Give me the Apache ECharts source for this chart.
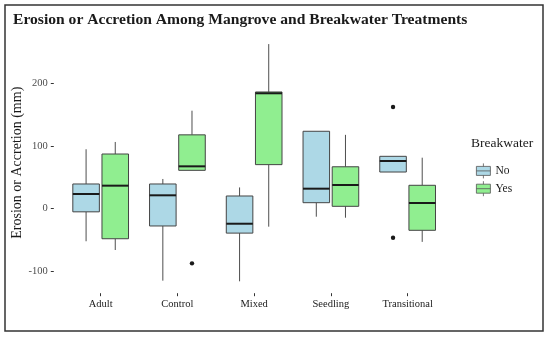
<!DOCTYPE html>
<html>
<head>
<meta charset="utf-8">
<script src="https://cdn.jsdelivr.net/npm/echarts@6/dist/echarts.min.js"></script>
<style>
html,body{margin:0;padding:0;background:#fff;}
#c{width:550px;height:337px;}
</style>
</head>
<body>
<div id="c"></div>
<script>
// ---- data ----
const categories = ['Adult', 'Control', 'Mixed', 'Seedling', 'Transitional'];
// [min whisker, Q1, median, Q3, max whisker]
const noStats = [
  [-52, -5, 23.5, 39.5, 95],
  [-115, -27.6, 21.4, 39.5, 47.5],
  [-116, -39, -24, 20.3, 34],
  [-12.8, 9.6, 32, 123.7, 123.7],
  [58.6, 58.6, 76.2, 83.7, 83.7]
];
const yesStats = [
  [-66, -48, 36.8, 87.4, 106.6],
  [61.3, 61.3, 67.7, 118, 156.6],
  [-28.7, 70.4, 184.4, 186.5, 263],
  [-14.4, 3.8, 37.9, 67, 118],
  [-53, -34.5, 9.1, 37.4, 81.5]
];
// outliers: [category index, value]
const noOutliers = [[4, 162.5], [4, -46.3]];
const yesOutliers = [[1, -87.3]];
const yTicks = [-100, 0, 100, 200];
const seriesNames = ['No', 'Yes'];
const colors = ['#ADD8E6', '#90EE90'];

const serif = '"Liberation Serif", "DejaVu Serif", serif';

function boxRender(dir, fill) {
  return function (params, api) {
    const idx = api.value(0);
    const cx = api.coord([idx, 0])[0];
    const band = api.size([1, 0])[0];
    const x = cx + dir * band * 0.19;
    const hw = band * 0.173;
    const y = i => api.coord([idx, api.value(i)])[1];
    const yMin = y(1), yQ1 = y(2), yMed = y(3), yQ3 = y(4), yMax = y(5);
    const ws = { stroke: '#3a3a3a', lineWidth: 0.9 };
    return {
      type: 'group',
      children: [
        { type: 'line', shape: { x1: x, y1: yQ3, x2: x, y2: yMax }, style: ws },
        { type: 'line', shape: { x1: x, y1: yQ1, x2: x, y2: yMin }, style: ws },
        { type: 'rect', shape: { x: x - hw, y: yQ3, width: 2 * hw, height: yQ1 - yQ3 },
          style: { fill: fill, stroke: '#444', lineWidth: 1 } },
        { type: 'line', shape: { x1: x - hw, y1: yMed, x2: x + hw, y2: yMed },
          style: { stroke: '#1a1a1a', lineWidth: 2 } }
      ]
    };
  };
}
function outRender(dir) {
  return function (params, api) {
    const idx = api.value(0);
    const p = api.coord([idx, api.value(1)]);
    const band = api.size([1, 0])[0];
    return { type: 'circle', shape: { cx: p[0] + dir * band * 0.19, cy: p[1], r: 2.2 },
      style: { fill: '#1a1a1a' } };
  };
}

const iconPath = 'path://M7,0 V3 M0,3 H14 V12 H0 Z M0,7.5 H14 M7,12 V15';

const option = {
  animation: false,
  backgroundColor: '#fff',
  title: {
    text: 'Erosion or Accretion Among Mangrove and Breakwater Treatments',
    left: 13, top: 12, padding: 0,
    textStyle: { fontFamily: serif, fontSize: 15.6, fontWeight: 'bold', color: '#1a1a1a' }
  },
  legend: {
    orient: 'vertical', left: 471, top: 158,
    itemWidth: 14, itemHeight: 15, itemGap: 2,
    textStyle: { fontFamily: serif, fontSize: 11.5, color: '#1a1a1a' },
    data: seriesNames.map((n, i) => ({
      name: n, icon: iconPath,
      itemStyle: { color: colors[i], borderColor: '#555', borderWidth: 0.8 }
    }))
  },
  graphic: [
    { type: 'text', left: 471, top: 136,
      style: { text: 'Breakwater', font: '13.5px ' + serif, fill: '#1a1a1a' } },
    { type: 'rect', shape: { x: 5, y: 5, width: 538, height: 326 }, z: 100,
      style: { fill: 'none', stroke: '#333', lineWidth: 1.5 } }
  ],
  grid: { left: 62.3, right: 104, top: 32.2, bottom: 43.8, containLabel: false, outerBoundsMode: 'none' },
  xAxis: {
    type: 'category', data: categories, boundaryGap: true,
    axisLine: { show: false, onZero: false },
    axisTick: { show: true, alignWithLabel: true, length: 3, lineStyle: { color: '#333' } },
    axisLabel: { margin: 6, fontFamily: serif, fontSize: 10.5, color: '#1a1a1a' },
    splitLine: { show: false }
  },
  yAxis: {
    type: 'value', min: -135, max: 282, offset: 8.5,
    name: 'Erosion or Accretion (mm)', nameLocation: 'middle', nameGap: 29,
    nameMoveOverlap: false,
    nameTextStyle: { fontFamily: serif, fontSize: 14, color: '#1a1a1a' },
    axisLine: { show: false, onZero: false },
    axisTick: { show: true, length: 3, customValues: yTicks, lineStyle: { color: '#333' } },
    axisLabel: { margin: 6, customValues: yTicks, fontFamily: serif, fontSize: 10.5, color: '#4d4d4d' },
    splitLine: { show: false }
  },
  series: [
    { name: 'No', type: 'custom', renderItem: boxRender(-1, colors[0]),
      itemStyle: { color: colors[0] },
      encode: { x: 0, y: [1, 2, 3, 4, 5] },
      data: noStats.map((s, i) => [i].concat(s)) },
    { name: 'Yes', type: 'custom', renderItem: boxRender(1, colors[1]),
      itemStyle: { color: colors[1] },
      encode: { x: 0, y: [1, 2, 3, 4, 5] },
      data: yesStats.map((s, i) => [i].concat(s)) },
    { name: 'No outliers', type: 'custom', renderItem: outRender(-1),
      encode: { x: 0, y: 1 }, data: noOutliers },
    { name: 'Yes outliers', type: 'custom', renderItem: outRender(1),
      encode: { x: 0, y: 1 }, data: yesOutliers }
  ]
};

const chart = echarts.init(document.getElementById('c'), null, { renderer: 'canvas' });
chart.setOption(option);
</script>
</body>
</html>
